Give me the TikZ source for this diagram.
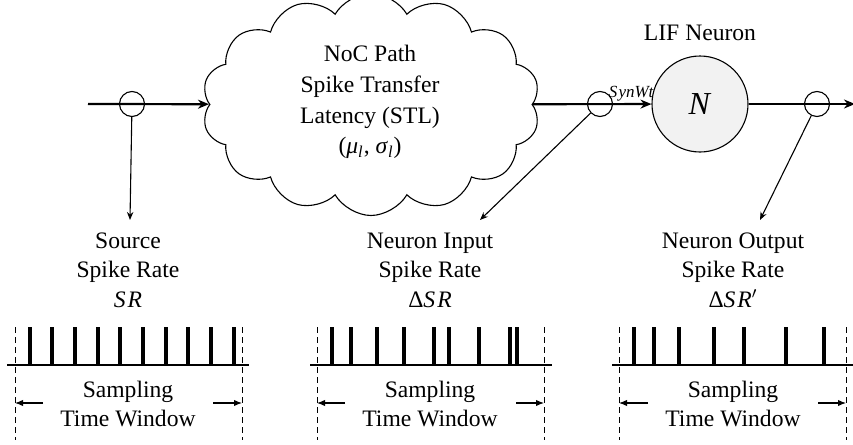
\documentclass[tikz,border=0pt]{standalone}
\usepackage{fontspec}
\setmainfont{Liberation Serif}
\usetikzlibrary{shapes.symbols,arrows.meta}

\begin{document}
\begin{tikzpicture}[x=0.5pt,y=-0.5pt,
  every node/.style={font=\fontsize{11.8}{14.8}\selectfont},
  lbl/.style={align=center,inner sep=0pt},
  tap/.style={circle,draw,line width=0.55pt,minimum size=12.5pt,inner sep=0pt},
  mainline/.style={line width=1.1pt,-{Stealth[length=5.5pt,width=4.5pt]}},
  probe/.style={line width=0.55pt,-{Stealth[length=4pt,width=3.2pt]}},
  spike/.style={line width=1.7pt},
  axis/.style={line width=1.1pt},
  bound/.style={line width=0.5pt,dash pattern=on 3.2pt off 1.8pt},
  win/.style={line width=0.55pt,-{Latex[length=4pt,width=3.2pt]}},
]
\useasboundingbox (0,0) rectangle (853,445);

% network path, neuron and taps
\node[cloud,draw,line width=0.55pt,cloud puffs=14,cloud puff arc=120,
      minimum width=169pt,minimum height=111pt,inner sep=0pt] (noc) at (371,104.5) {};
\node[lbl,font=\fontsize{11.8}{15.4}\selectfont] (noctext) at (370,102) {NoC Path\\Spike Transfer\\Latency (STL)\\
  (\textit{μ}\textsubscript{\textit{l}}, \textit{σ}\textsubscript{\textit{l}})};
\node[circle,draw,fill=gray!10,line width=0.55pt,minimum size=48pt,inner sep=0pt] (N) at (700,104)
  {\fontsize{16}{16}\selectfont\textit{N}};
\node[lbl] (lif) at (700,33) {LIF Neuron};

\coordinate (in) at (88,104);
\coordinate (out) at (855,104);
\node[tap] (c1) at (132,104) {};
\node[tap] (c2) at (600,104) {};
\node[tap] (c3) at (817,104) {};

\draw[mainline] (in) -- (noc);
\draw[mainline] (noc) -- (N) node[pos=0.83,anchor=south,inner sep=0.8pt,font=\fontsize{8.5}{8.5}\selectfont] (syn) {\textit{S\kern0.6pt ynWt}};
\draw[mainline] (N) -- (out);

% probes down to the spike-rate labels
\coordinate (p1) at (130,220);
\coordinate (p2) at (480,220);
\coordinate (p3) at (760,220);
\draw[probe] (c1) -- (p1);
\draw[probe] (c2) -- (p2);
\draw[probe] (c3) -- (p3);

\node[lbl] (sr1) at (128,270) {Source\\Spike Rate\\\textit{S\kern1pt R}};
\node[lbl] (sr2) at (430,270) {Neuron Input\\Spike Rate\\Δ\textit{S\kern1pt R}};
\node[lbl] (sr3) at (733,270) {Neuron Output\\Spike Rate\\Δ\textit{S\kern1pt R}$'$};

% spike trains with their sampling windows
\draw[axis] (7,365) -- (249,365);
\foreach \x in {30,52,75,98,120,143,166,188,211,234} \draw[spike] (\x,327) -- (\x,365);
\draw[bound] (15,327) -- (15,440);
\draw[bound] (242,327) -- (242,440);
\node[lbl] (w1) at (128,404) {Sampling\\Time Window};
\draw[win] (43,403) -- (15,403);
\draw[win] (213,403) -- (242,403);

\draw[axis] (310,365) -- (552,365);
\foreach \x in {332,351,377,404,434,449,479,510,517} \draw[spike] (\x,327) -- (\x,365);
\draw[bound] (317,327) -- (317,440);
\draw[bound] (544,327) -- (544,440);
\node[lbl] (w2) at (430,404) {Sampling\\Time Window};
\draw[win] (345,403) -- (317,403);
\draw[win] (516,403) -- (544,403);

\draw[axis] (612,365) -- (853,365);
\foreach \x in {634,654,679,714,744,786,824} \draw[spike] (\x,327) -- (\x,365);
\draw[bound] (619,327) -- (619,440);
\draw[bound] (846,327) -- (846,440);
\node[lbl] (w3) at (733,404) {Sampling\\Time Window};
\draw[win] (648,403) -- (619,403);
\draw[win] (818,403) -- (846,403);
\end{tikzpicture}
\end{document}
